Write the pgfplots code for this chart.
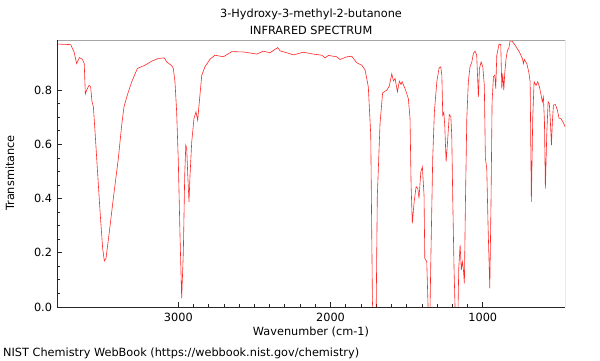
\documentclass[border=0pt]{standalone}
\usepackage{fontspec}
\setmainfont{DejaVu Sans}
\usepackage{pgfplots}
\pgfplotsset{compat=1.18}
\begin{document}
\fontsize{11.3bp}{13bp}\selectfont
\begin{tikzpicture}[x=1bp,y=1bp]
\begin{axis}[
  at={(0,0)}, anchor=south west,
  scale only axis, width=508bp, height=267bp,
  x dir=reverse, xmin=460, xmax=3797, ymin=0, ymax=0.985,
  xtick={1000,2000,3000}, minor x tick num=9,
  ytick={0,0.2,0.4,0.6,0.8}, minor y tick num=3,
  xticklabel style={/pgf/number format/set thousands separator={}},
  yticklabel style={/pgf/number format/fixed, /pgf/number format/precision=1, /pgf/number format/fixed zerofill},
  /pgf/number format/assume math mode=true,
  ticklabel style={font=\fontsize{11.3bp}{13bp}\selectfont},
  tick align=inside, major tick length=5bp, minor tick length=3bp,
  xtick pos=bottom, ytick pos=left,
  tick style={black!85, line width=0.8bp},
  axis line style={draw=none},
  xticklabel style={yshift=-2bp},
  yticklabel style={xshift=-1bp},
  clip=true,
]
\addplot[red, opacity=0.85, line width=0.6bp] coordinates {
(3795,0.970) (3707,0.968) (3685,0.941) (3668,0.898) (3650,0.920) (3631,0.914)
(3618,0.898) (3611,0.786) (3602,0.800) (3587,0.818) (3576,0.812) (3567,0.757)
(3558,0.739) (3547,0.646) (3532,0.511) (3514,0.351) (3497,0.216) (3486,0.170)
(3475,0.180) (3453,0.278) (3427,0.401) (3394,0.548) (3372,0.671) (3357,0.738)
(3335,0.782) (3306,0.831) (3269,0.880) (3219,0.892) (3175,0.907) (3131,0.917)
(3092,0.919) (3076,0.904) (3043,0.890) (3033,0.880) (3022,0.831) (3011,0.720)
(3000,0.536) (2989,0.265) (2978,0.032) (2967,0.204) (2958,0.487) (2951,0.597)
(2945,0.585) (2938,0.487) (2930,0.388) (2923,0.487) (2912,0.609) (2897,0.696)
(2884,0.720) (2873,0.689) (2862,0.757) (2846,0.855) (2825,0.886) (2792,0.914)
(2759,0.929) (2704,0.923) (2649,0.942) (2573,0.941) (2485,0.933) (2442,0.944)
(2398,0.938) (2347,0.957) (2332,0.945) (2288,0.938) (2244,0.930) (2179,0.940)
(2113,0.933) (2058,0.929) (2036,0.919) (2014,0.928) (1959,0.923) (1938,0.913)
(1894,0.923) (1861,0.925) (1828,0.901) (1795,0.892) (1773,0.874) (1752,0.812)
(1736,0.634) (1725,0.020) (1720,-0.05) (1701,-0.05) (1693,0.407) (1675,0.677)
(1658,0.790) (1631,0.800) (1614,0.815) (1598,0.860) (1587,0.834) (1576,0.843)
(1561,0.794) (1548,0.833) (1537,0.821) (1530,0.831) (1511,0.806) (1489,0.769)
(1478,0.696) (1471,0.450) (1463,0.309) (1451,0.388) (1438,0.444) (1427,0.437)
(1419,0.401) (1407,0.499) (1397,0.517) (1386,0.413) (1381,0.180) (1368,0.167)
(1357,-0.05) (1348,-0.05) (1340,0.216) (1329,0.548) (1318,0.720) (1302,0.831)
(1287,0.882) (1276,0.886) (1269,0.855) (1263,0.708) (1256,0.718) (1250,0.671)
(1241,0.536) (1233,0.597) (1220,0.710) (1210,0.702) (1204,0.634) (1197,0.388)
(1189,0.143) (1180,-0.05) (1164,-0.05) (1158,0.143) (1149,0.229) (1141,0.136)
(1134,0.167) (1128,0.143) (1121,0.087) (1114,0.388) (1105,0.696) (1095,0.831)
(1084,0.886) (1072,0.904) (1062,0.935) (1051,0.944) (1040,0.929) (1029,0.775)
(1022,0.880) (1011,0.904) (1000,0.886) (990,0.818) (983,0.548) (974,0.511)
(965,0.290) (954,0.069) (946,0.388) (939,0.757) (930,0.850) (921,0.855)
(915,0.806) (908,0.929) (893,0.970) (882,0.968) (875,0.806) (869,0.861)
(862,0.800) (856,0.861) (847,0.917) (838,0.947) (829,0.954) (821,0.981)
(808,0.981) (788,0.966) (760,0.941) (740,0.917) (733,0.898) (727,0.913)
(711,0.898) (698,0.867) (689,0.831) (681,0.388) (672,0.696) (663,0.831)
(650,0.818) (639,0.831) (628,0.812) (617,0.782) (609,0.757) (602,0.775)
(595,0.683) (589,0.437) (580,0.634) (571,0.757) (563,0.751) (556,0.683)
(549,0.597) (543,0.683) (536,0.745) (523,0.747) (510,0.726) (499,0.696)
(488,0.696) (474,0.683) (459,0.665)
};
\draw[black!35, line width=2bp] (rel axis cs:0,1) -- (rel axis cs:1,1);
\draw[black!70, line width=0.8bp] (rel axis cs:1,0) -- (rel axis cs:1,1);
\draw[black!85, line width=0.8bp] (rel axis cs:0,1) -- (rel axis cs:0,0) -- (rel axis cs:1,0);
\end{axis}
\node at (254,293) {3-Hydroxy-3-methyl-2-butanone};
\node at (254,277) {INFRARED SPECTRUM};
\node at (254,-25) {Wavenumber (cm-1)};
\node[rotate=90] at (-47,134) {Transmitance};
\node[anchor=west, inner sep=0pt] at (-54,-46) {NIST Chemistry WebBook (https://webbook.nist.gov/chemistry)};
\pgfresetboundingbox
\path (-57,-53) rectangle (543,307);
\end{tikzpicture}
\end{document}
